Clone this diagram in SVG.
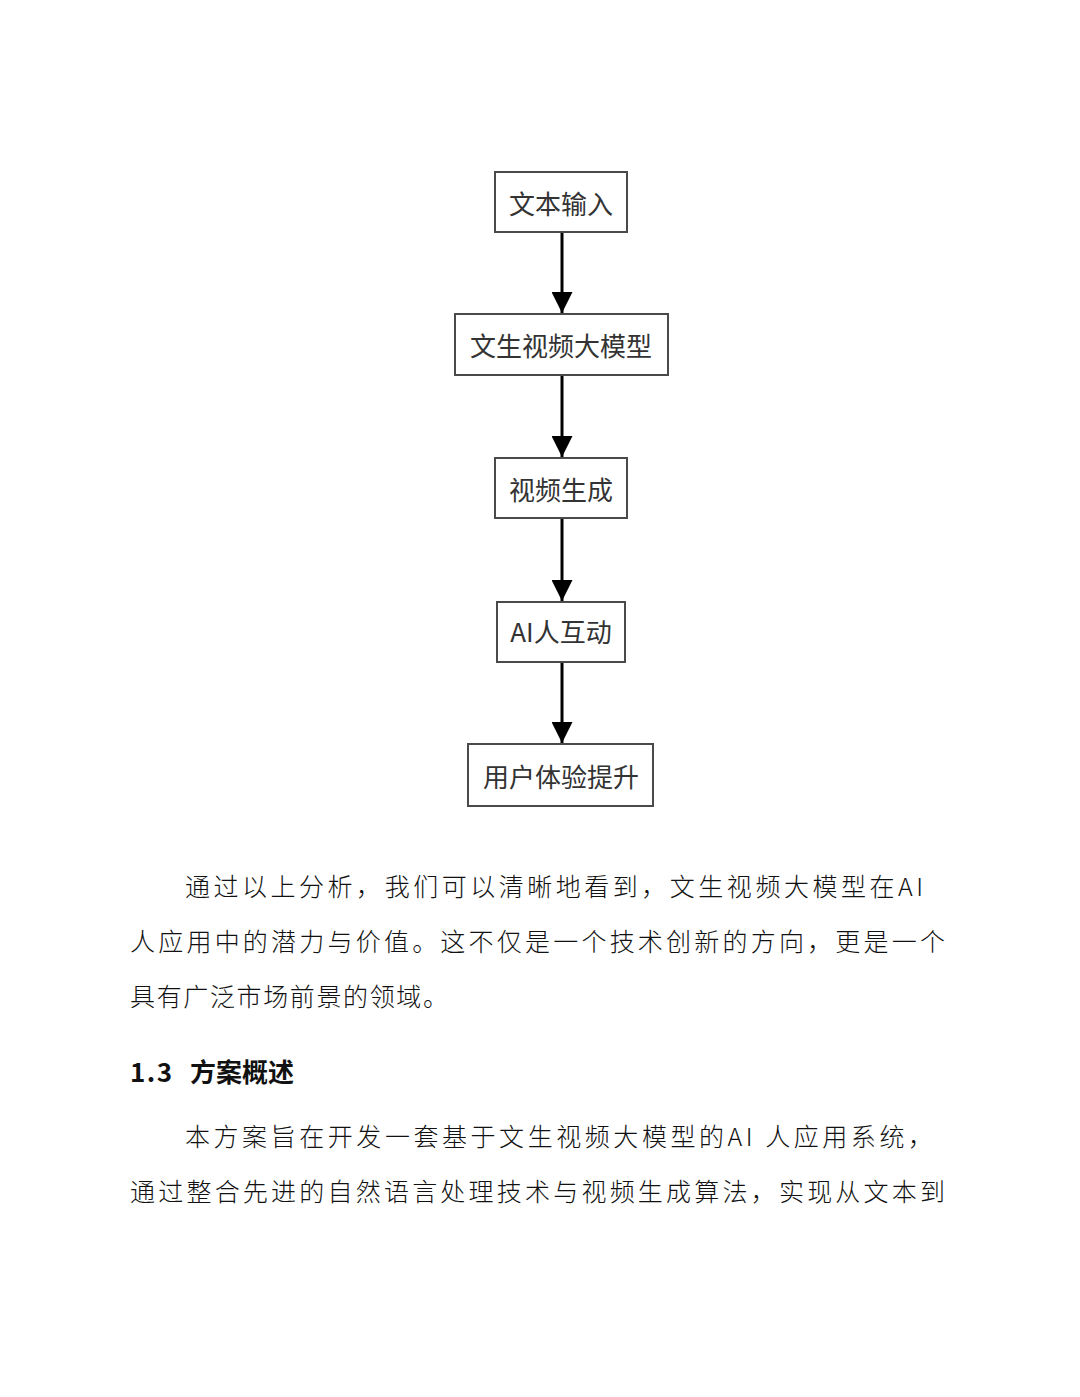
<svg xmlns="http://www.w3.org/2000/svg" width="1080" height="1397" viewBox="0 0 1080 1397">
<style>
.box{fill:#fff;stroke:#4a4a4a;stroke-width:2}
.lbl{font-family:"Noto Sans CJK SC","Noto Sans",sans-serif;font-size:26px;fill:#333;text-anchor:middle}
.body{font-family:"Noto Sans CJK SC",sans-serif;font-size:25px;font-weight:300;fill:#111}
.head{font-family:"Noto Sans CJK SC",sans-serif;font-size:26px;font-weight:700;fill:#111}
.conn line{stroke:#000;stroke-width:3}
</style>
<defs>
<marker id="ah" viewBox="0 0 10 10" refX="10" refY="5" markerWidth="7" markerHeight="7" markerUnits="strokeWidth" orient="auto">
<path d="M0,0 L10,5 L0,10 z" fill="#000"/>
</marker>
</defs>
<rect width="1080" height="1397" fill="#fff"/>
<g class="conn">
<line x1="562" y1="232" x2="562" y2="313" marker-end="url(#ah)"/>
<line x1="562" y1="375" x2="562" y2="457" marker-end="url(#ah)"/>
<line x1="562" y1="518" x2="562" y2="601" marker-end="url(#ah)"/>
<line x1="562" y1="662" x2="562" y2="743" marker-end="url(#ah)"/>
</g>
<g id="n1"><rect class="box" x="495" y="172" width="132" height="60"/><text class="lbl" x="561" y="214">文本输入</text></g>
<g id="n2"><rect class="box" x="455" y="314" width="213" height="61"/><text class="lbl" x="561" y="356">文生视频大模型</text></g>
<g id="n3"><rect class="box" x="495" y="458" width="132" height="60"/><text class="lbl" x="561" y="500">视频生成</text></g>
<g id="n4"><rect class="box" x="497" y="602" width="128" height="60"/><text class="lbl" x="561" y="642">AI人互动</text></g>
<g id="n5"><rect class="box" x="468" y="744" width="185" height="62"/><text class="lbl" x="561" y="787">用户体验提升</text></g>
<text class="body" x="185" y="896" textLength="738" lengthAdjust="spacing">通过以上分析，我们可以清晰地看到，文生视频大模型在AI</text>
<text class="body" x="130" y="951" textLength="815" lengthAdjust="spacing">人应用中的潜力与价值。这不仅是一个技术创新的方向，更是一个</text>
<text class="body" x="130" y="1006" textLength="318" lengthAdjust="spacing">具有广泛市场前景的领域。</text>
<text class="head" y="1082"><tspan x="130" textLength="42" lengthAdjust="spacing">1.3</tspan><tspan x="184"> 方案概述</tspan></text>
<text class="body" x="185" y="1146" textLength="748" lengthAdjust="spacing">本方案旨在开发一套基于文生视频大模型的AI 人应用系统，</text>
<text class="body" x="130" y="1201" textLength="815" lengthAdjust="spacing">通过整合先进的自然语言处理技术与视频生成算法，实现从文本到</text>
</svg>
